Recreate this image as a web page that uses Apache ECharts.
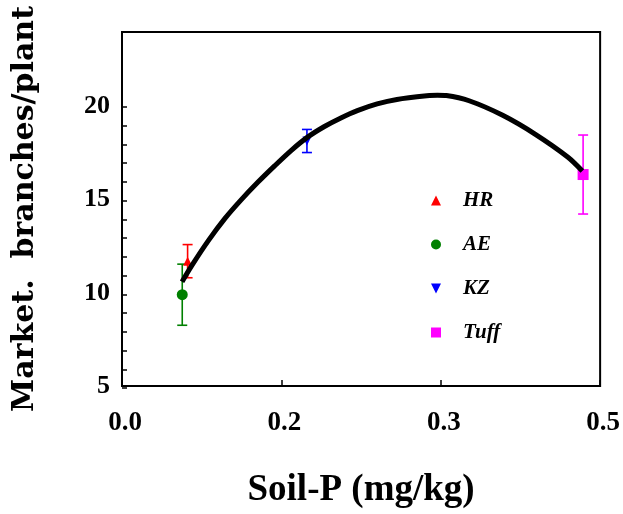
<!DOCTYPE html>
<html>
<head>
<meta charset="utf-8">
<script src="https://cdn.jsdelivr.net/npm/echarts@6/dist/echarts.min.js"></script>
<style>
  html, body { margin: 0; padding: 0; background: #fff; }
  #chart { width: 623px; height: 514px; }
</style>
</head>
<body>
<div id="chart"></div>
<script>
// Axis tick labels
const xTickLabels = ['0.0', '0.2', '0.3', '0.5'];
const yTickLabels = ['5', '10', '15', '20'];

// Site means with standard errors
const sites = ['HR', 'AE', 'KZ', 'Tuff'];
const siteColors = ['#ff0000', '#008000', '#0000ff', '#ff00ff'];
const siteSoilP = [0.0686, 0.063, 0.1934, 0.4822];
const siteBranches = [11.7, 9.9, 18.15, 16.35];
const siteError = [0.89, 1.64, 0.62, 2.12];

// Fitted response curve
const fitSoilP = [0.0628, 0.0731, 0.0903, 0.1075, 0.1248, 0.1420, 0.1593, 0.1771, 0.1944, 0.2117, 0.2289,
                  0.2461, 0.2668, 0.2875, 0.3216, 0.3299, 0.3392, 0.3630, 0.3981, 0.4323, 0.4664, 0.4814];
const fitBranches = [10.59, 11.47, 12.80, 13.98, 15.00, 15.93, 16.80, 17.65, 18.37, 18.93, 19.39,
                     19.78, 20.14, 20.38, 20.59, 20.61, 20.59, 20.31, 19.53, 18.51, 17.28, 16.54];

const serif = '"Liberation Serif", "Times New Roman", serif';
const downTriangle = 'path://M0,0L10,0L5,10Z';

const symbols = ['triangle', 'circle', downTriangle, 'rect'];
const symbolSizes = [9, 11, 9, 11];

const chart = echarts.init(document.getElementById('chart'));

const errorSeries = sites.map((name, i) => ({
  type: 'custom',
  name: name + ' error',
  xAxisIndex: 0,
  yAxisIndex: 0,
  z: 2,
  data: [[siteSoilP[i], siteBranches[i], siteError[i]]],
  renderItem: function (params, api) {
    const x = api.value(0), y = api.value(1), e = api.value(2);
    const top = api.coord([x, y + e]);
    const bot = api.coord([x, y - e]);
    const style = { stroke: siteColors[i], lineWidth: 1.6 };
    const w = 5;
    return {
      type: 'group',
      children: [
        { type: 'line', shape: { x1: top[0], y1: top[1], x2: bot[0], y2: bot[1] }, style: style },
        { type: 'line', shape: { x1: top[0] - w, y1: top[1], x2: top[0] + w, y2: top[1] }, style: style },
        { type: 'line', shape: { x1: bot[0] - w, y1: bot[1], x2: bot[0] + w, y2: bot[1] }, style: style }
      ]
    };
  }
}));

const pointSeries = sites.map((name, i) => ({
  type: 'scatter',
  name: name,
  xAxisIndex: 0,
  yAxisIndex: 0,
  z: 3,
  symbol: symbols[i],
  symbolSize: symbolSizes[i],
  itemStyle: { color: siteColors[i], opacity: 1 },
  data: [[siteSoilP[i], siteBranches[i]]]
}));

const fitSeries = {
  type: 'line',
  name: 'fit',
  xAxisIndex: 0,
  yAxisIndex: 0,
  z: 4,
  smooth: 0.3,
  showSymbol: false,
  symbol: 'none',
  lineStyle: { color: '#000', width: 5 },
  data: fitSoilP.map((x, i) => [x, fitBranches[i]])
};

chart.setOption({
  animation: false,
  backgroundColor: '#fff',
  grid: [
    { left: 122, right: 17, top: 32, bottom: 126, show: true, borderColor: '#000', borderWidth: 2, backgroundColor: 'transparent' },
    { left: 122, right: 17, top: 107, bottom: 126, show: false }
  ],
  legend: {
    orient: 'vertical',
    left: 426,
    top: 185,
    itemWidth: 10,
    itemHeight: 10,
    itemGap: 23,
    data: sites.map((name, i) => ({ name: name, icon: symbols[i] })),
    textStyle: {
      fontFamily: serif,
      fontStyle: 'italic',
      fontWeight: 'bold',
      fontSize: 21,
      color: '#000',
      lineHeight: 20,
      padding: [0, 0, 0, 17]
    }
  },
  xAxis: [
    {
      type: 'value',
      gridIndex: 0,
      min: 0,
      max: 0.5,
      interval: 0.5 / 3,
      splitLine: { show: false },
      axisLine: { show: true, lineStyle: { color: '#000', width: 2 } },
      axisTick: { show: true, inside: true, length: 6, lineStyle: { color: '#000', width: 1.5 } },
      axisLabel: {
        margin: 24,
        fontFamily: serif,
        fontWeight: 'bold',
        fontSize: 27,
        color: '#000',
        padding: [0, 0, 0, 6],
        formatter: (v, idx) => xTickLabels[idx] !== undefined ? xTickLabels[idx] : ''
      },
      name: 'Soil-P (mg/kg)',
      nameLocation: 'middle',
      nameGap: 86,
      nameTextStyle: { fontFamily: serif, fontWeight: 'bold', fontSize: 37, color: '#000' }
    },
    { type: 'value', gridIndex: 1, min: 0, max: 0.5, show: false }
  ],
  yAxis: [
    {
      type: 'value',
      gridIndex: 0,
      min: 5,
      max: 24,
      interval: 5,
      splitLine: { show: false },
      axisLine: { show: true, lineStyle: { color: '#000', width: 2 } },
      axisTick: { show: false },
      axisLabel: {
        margin: 12,
        fontFamily: serif,
        fontWeight: 'bold',
        fontSize: 26,
        color: '#000',
        formatter: (v) => {
          const idx = yTickLabels.indexOf(String(v));
          return idx >= 0 ? yTickLabels[idx] : '';
        }
      },
      name: 'Market.  branches/plant',
      nameLocation: 'middle',
      nameGap: 82,
      nameTextStyle: { fontFamily: '"DejaVu Serif", serif', fontWeight: 'bold', fontSize: 30, color: '#000' }
    },
    {
      type: 'value',
      gridIndex: 1,
      min: 5,
      max: 20,
      interval: 1,
      splitLine: { show: false },
      axisLine: { show: false },
      axisLabel: { show: false },
      axisTick: { show: true, inside: true, length: 5, lineStyle: { color: '#000', width: 1.5 } }
    }
  ],
  series: [...errorSeries, ...pointSeries, fitSeries]
});
</script>
</body>
</html>
